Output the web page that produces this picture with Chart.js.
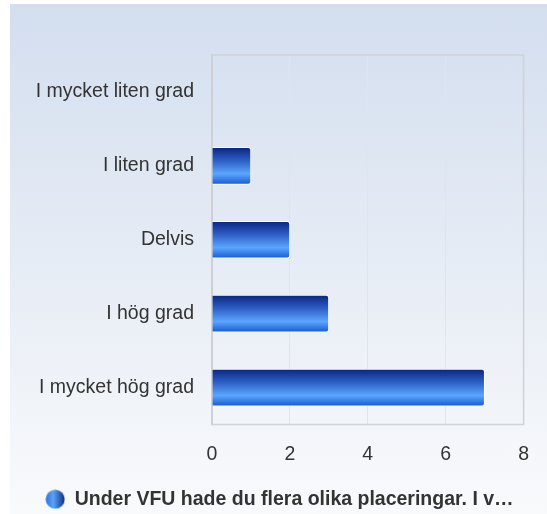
<!DOCTYPE html>
<html>
<head>
<meta charset="utf-8">
<script src="https://cdn.jsdelivr.net/npm/chart.js@4.4.1/dist/chart.umd.min.js"></script>
<style>
  html, body { margin: 0; padding: 0; background: #fff; }
  #wrap { position: relative; width: 547px; height: 514px; }
  #panel {
    position: absolute; left: 10px; top: 4px; width: 537px; height: 510px;
    background: linear-gradient(to bottom, #d3deef 0%, #e6ecf5 50%, #f9fafc 100%);
  }
  canvas { position: absolute; left: 0; top: 0; }
</style>
</head>
<body>
<div id="wrap">
  <div id="panel"></div>
  <canvas id="chart" width="547" height="514"></canvas>
</div>
<script>
// chart data
var categories = ['I mycket liten grad', 'I liten grad', 'Delvis', 'I hög grad', 'I mycket hög grad'];
var answers = [0, 1, 2, 3, 7];
var seriesName = 'Under VFU hade du flera olika placeringar. I v\u2026';
var xTicks = [0, 2, 4, 6, 8];

// little gradient circle for the legend
function legendDot() {
    var c = document.createElement('canvas');
    c.width = 20; c.height = 20;
    var g = c.getContext('2d');
    var grad = g.createLinearGradient(0, 0, 20, 0);
    grad.addColorStop(0, '#2f6fd6');
    grad.addColorStop(0.4, '#5aa4f6');
    grad.addColorStop(1, '#0b2a86');
    g.fillStyle = grad;
    g.beginPath();
    g.arc(10, 10, 9.5, 0, Math.PI * 2);
    g.fill();
    return c;
}

// vertical gradient for each bar
function barFill(context) {
    var chart = context.chart;
    var yScale = chart.scales.y;
    if (!chart.chartArea || !yScale) return '#2a5cc0';
    var y = yScale.getPixelForValue(context.dataIndex);
    var grad = chart.ctx.createLinearGradient(0, y - 18, 0, y + 18);
    grad.addColorStop(0, '#0a2785');
    grad.addColorStop(0.35, '#2c5ec4');
    grad.addColorStop(0.72, '#5aa6ff');
    grad.addColorStop(1, '#1d5cd0');
    return grad;
}

var plotFrame = {
    id: 'plotFrame',
    afterLayout: function(chart) {
        // nudge the legend a bit lower, like the original
        if (chart.legend) {
            chart.legend.top += 5;
            chart.legend.bottom += 5;
        }
    },
    beforeDatasetsDraw: function(chart) {
        var a = chart.chartArea;
        var c = chart.ctx;
        c.save();
        c.strokeStyle = '#cfd2d8';
        c.lineWidth = 1.5;
        c.strokeRect(a.left, a.top, a.right - a.left, a.bottom - a.top);
        c.restore();
    }
};

var font = 'Liberation Sans, Arial, sans-serif';

new Chart(document.getElementById('chart'), {
    type: 'bar',
    data: {
        labels: categories,
        datasets: [{
            label: seriesName,
            data: answers,
            backgroundColor: barFill,
            borderColor: '#ffffff',
            borderWidth: 1,
            borderRadius: 3,
            barThickness: 37
        }]
    },
    options: {
        indexAxis: 'y',
        responsive: false,
        animation: false,
        layout: { padding: { left: 34, right: 22, top: 55, bottom: 0 } },
        scales: {
            x: {
                min: 0,
                max: 8,
                afterBuildTicks: function(scale) {
                    scale.ticks = xTicks.map(function(v) { return { value: v }; });
                },
                afterFit: function(scale) { scale.height = 58; },
                grid: { color: '#e2e4e8', drawTicks: false },
                border: { display: false },
                ticks: {
                    color: '#333',
                    padding: 18,
                    font: { family: font, size: 19.5 }
                }
            },
            y: {
                afterFit: function(scale) { scale.width = 178; },
                grid: { display: false, drawTicks: false },
                border: { color: '#c8cbd0', width: 2 },
                ticks: {
                    color: '#333',
                    padding: 18,
                    font: { family: font, size: 19.5 }
                }
            }
        },
        plugins: {
            tooltip: { enabled: false },
            legend: {
                position: 'bottom',
                labels: {
                    usePointStyle: true,
                    pointStyle: legendDot(),
                    color: '#333',
                    padding: 2,
                    font: { family: font, size: 19.5, weight: 'bold' }
                }
            }
        }
    },
    plugins: [plotFrame]
});
</script>
</body>
</html>
